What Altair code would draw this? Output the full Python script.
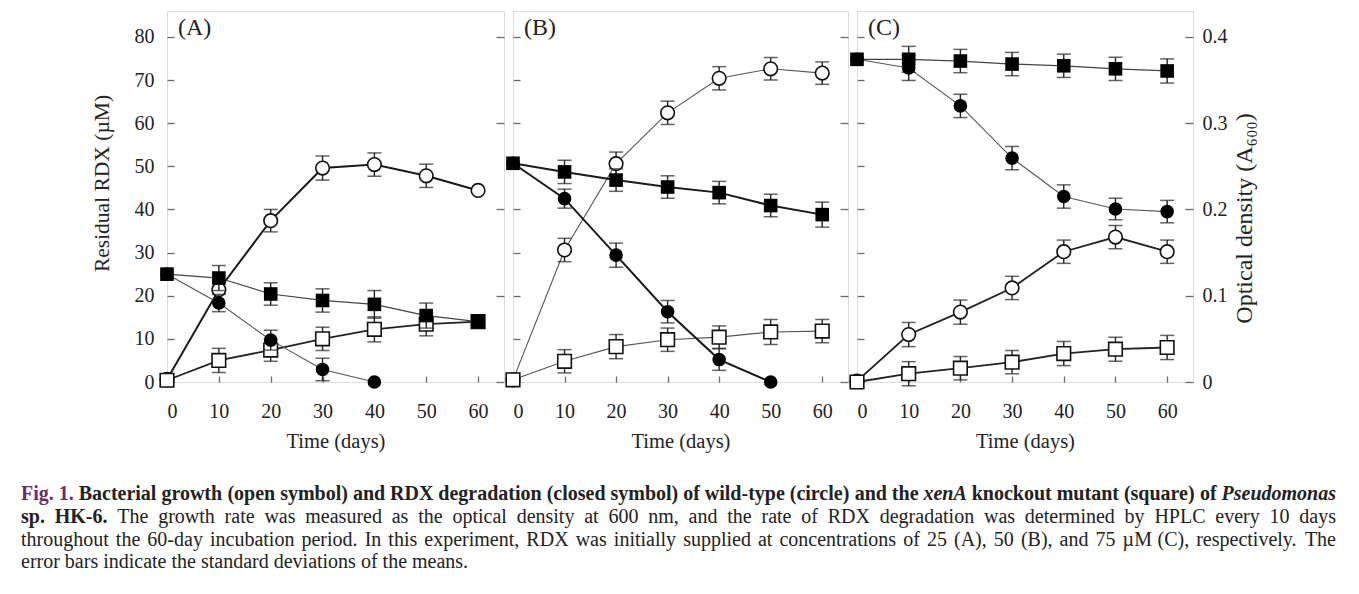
import altair as alt
import pandas as pd

SERIF = "Liberation Serif"
INK = "#222222"
FRAME = "#6a6a6a"
PURPLE = "#6b2c6b"

days = [0, 10, 20, 30, 40, 50, 60]

# ---- Panel A (25 uM RDX) ----
a_rdx_wt = [25.0, 18.3, 9.7, 2.9, 0.0, None, None]
a_rdx_wt_sd = [0, 2.0, 2.3, 2.6, 0, 0, 0]
a_rdx_mut = [25.0, 24.1, 20.4, 18.9, 18.0, 15.4, 14.0]
a_rdx_mut_sd = [0, 2.9, 2.6, 2.7, 3.2, 2.9, 0]
a_od_wt = [0.003, 0.107, 0.187, 0.248, 0.252, 0.239, 0.222]
a_od_wt_sd = [0, 0, 0.013, 0.014, 0.0135, 0.0135, 0]
a_od_mut = [0.002, 0.025, 0.037, 0.050, 0.061, 0.067, 0.070]
a_od_mut_sd = [0, 0.014, 0.013, 0.0135, 0.0145, 0.0135, 0]

# ---- Panel B (50 uM RDX) ----
b_rdx_wt = [50.7, 42.5, 29.4, 16.3, 5.2, 0.0, None]
b_rdx_wt_sd = [0, 2.2, 2.8, 2.6, 2.5, 0, 0]
b_rdx_mut = [50.7, 48.7, 46.8, 45.2, 43.9, 40.9, 38.8]
b_rdx_mut_sd = [0, 2.7, 2.6, 2.6, 2.6, 2.6, 2.9]
b_od_wt = [0.0025, 0.153, 0.253, 0.312, 0.352, 0.363, 0.358]
b_od_wt_sd = [0, 0.0135, 0.0135, 0.0135, 0.0135, 0.013, 0.013]
b_od_mut = [0.0025, 0.024, 0.041, 0.049, 0.052, 0.058, 0.059]
b_od_mut_sd = [0, 0.0135, 0.014, 0.0135, 0.013, 0.0145, 0.0135]

# ---- Panel C (75 uM RDX) ----
c_rdx_wt = [74.8, 72.8, 64.0, 51.9, 43.0, 40.1, 39.5]
c_rdx_wt_sd = [0, 2.9, 2.7, 2.7, 2.7, 2.5, 2.6]
c_rdx_mut = [74.8, 74.8, 74.4, 73.7, 73.3, 72.6, 72.1]
c_rdx_mut_sd = [0, 3.0, 2.7, 2.7, 2.7, 2.7, 2.8]
c_od_wt = [0.001, 0.055, 0.081, 0.109, 0.151, 0.168, 0.151]
c_od_wt_sd = [0, 0.014, 0.014, 0.0135, 0.0135, 0.0135, 0.0135]
c_od_mut = [0.0, 0.0096, 0.016, 0.023, 0.033, 0.038, 0.040]
c_od_mut_sd = [0, 0.014, 0.0135, 0.0135, 0.014, 0.014, 0.014]

panel_labels = ["(A)", "(B)", "(C)"]
x_ticks = [0, 10, 20, 30, 40, 50, 60]
rdx_ticks = [0, 10, 20, 30, 40, 50, 60, 70, 80]
od_ticks = [0, 0.1, 0.2, 0.3, 0.4]

# connecting-line weight per (panel, measure, strain)
LINE_W = {("A", "rdx", "wt"): 1.1, ("A", "rdx", "mut"): 1.2,
          ("A", "od", "wt"): 2.0, ("A", "od", "mut"): 1.8,
          ("B", "rdx", "wt"): 2.0, ("B", "rdx", "mut"): 2.0,
          ("B", "od", "wt"): 1.1, ("B", "od", "mut"): 1.1,
          ("C", "rdx", "wt"): 1.1, ("C", "rdx", "mut"): 1.2,
          ("C", "od", "wt"): 1.8, ("C", "od", "mut"): 1.8}
LINE_C = {1.1: "#555555", 1.2: "#444444", 1.8: "#222222", 2.0: "#1a1a1a"}

# caption: (text, style) segments per line
caption_lines = [
    [("Fig. 1.", "purple"),
     ("Bacterial growth (open symbol) and RDX degradation (closed symbol) of wild-type (circle) and the", "bold"),
     ("xenA", "bolditalic"), ("knockout mutant (square) of", "bold"), ("Pseudomonas", "bolditalic")],
    [("sp. HK-6.", "bold"),
     ("The growth rate was measured as the optical density at 600 nm, and the rate of RDX degradation was determined by HPLC every 10 days", "regular")],
    [("throughout the 60-day incubation period. In this experiment, RDX was initially supplied at concentrations of 25 (A), 50 (B), and 75 \u00b5M (C), respectively. The", "regular")],
    [("error bars indicate the standard deviations of the means.", "regular")],
]
caption_justified = [True, True, True, False]

# --- Times-compatible glyph advance widths (per 1000 em), for justifying the caption ---
_REG = {' ': 250, '(': 333, ')': 333, ',': 250, '-': 333, '.': 250, '\u00b5': 500,
        'A': 722, 'B': 667, 'C': 667, 'D': 722, 'E': 611, 'F': 556, 'G': 722, 'H': 722, 'I': 333,
        'J': 389, 'K': 722, 'L': 611, 'M': 889, 'N': 722, 'O': 722, 'P': 556, 'Q': 722, 'R': 667,
        'S': 556, 'T': 611, 'U': 722, 'V': 722, 'W': 944, 'X': 722, 'Y': 722, 'Z': 611,
        'a': 444, 'b': 500, 'c': 444, 'd': 500, 'e': 444, 'f': 333, 'g': 500, 'h': 500, 'i': 278,
        'j': 278, 'k': 500, 'l': 278, 'm': 778, 'n': 500, 'o': 500, 'p': 500, 'q': 500, 'r': 333,
        's': 389, 't': 278, 'u': 500, 'v': 500, 'w': 722, 'x': 500, 'y': 500, 'z': 444}
_BOLD = {' ': 250, '(': 333, ')': 333, ',': 250, '-': 333, '.': 250,
         'A': 722, 'B': 667, 'C': 722, 'D': 722, 'E': 667, 'F': 611, 'G': 778, 'H': 778, 'I': 389,
         'J': 500, 'K': 778, 'L': 667, 'M': 944, 'N': 722, 'O': 778, 'P': 611, 'Q': 778, 'R': 722,
         'S': 556, 'T': 667, 'U': 722, 'V': 722, 'W': 1000, 'X': 722, 'Y': 722, 'Z': 667,
         'a': 500, 'b': 556, 'c': 444, 'd': 556, 'e': 444, 'f': 333, 'g': 500, 'h': 556, 'i': 278,
         'j': 333, 'k': 556, 'l': 278, 'm': 833, 'n': 556, 'o': 500, 'p': 556, 'q': 556, 'r': 444,
         's': 389, 't': 333, 'u': 556, 'v': 500, 'w': 722, 'x': 500, 'y': 500, 'z': 444}
_BI = {'A': 667, 'P': 611, 'a': 500, 'c': 444, 'd': 500, 'e': 444, 'k': 500, 'm': 778,
       'n': 556, 'o': 500, 's': 389, 'u': 556, 'x': 500}


def _w(word, style, fs):
    tbl = _REG if style == "regular" else (_BI if style == "bolditalic" else _BOLD)
    return sum(tbl.get(ch, 500) for ch in word) * fs / 1000.0


def layout_caption(left, right, baselines, fs0=20.0):
    rows = []
    for segs, just, yb in zip(caption_lines, caption_justified, baselines):
        words = [(w, st) for txt, st in segs for w in txt.split(" ")]
        fs = fs0
        while True:
            total = sum(_w(w, st, fs) for w, st in words)
            gap = (right - left - total) / (len(words) - 1) if just else 0.25 * fs
            if gap >= 0.2 * fs or fs < 14:
                break
            fs -= 0.25
        x = left
        for w, st in words:
            rows.append({"w": w, "st": st, "px": x, "py": yb, "fs": fs})
            x += _w(w, st, fs) + gap
    return pd.DataFrame(rows)


def series(vals, sds, strain):
    rows = []
    for d, v, s in zip(days, vals, sds):
        if v is None:
            continue
        rows.append({"day": d, "value": v, "sd": s, "lo": v - s, "hi": v + s, "strain": strain})
    return rows


data = {
    "A": (series(a_rdx_wt, a_rdx_wt_sd, "wt") + series(a_rdx_mut, a_rdx_mut_sd, "mut"),
          series(a_od_wt, a_od_wt_sd, "wt") + series(a_od_mut, a_od_mut_sd, "mut")),
    "B": (series(b_rdx_wt, b_rdx_wt_sd, "wt") + series(b_rdx_mut, b_rdx_mut_sd, "mut"),
          series(b_od_wt, b_od_wt_sd, "wt") + series(b_od_mut, b_od_mut_sd, "mut")),
    "C": (series(c_rdx_wt, c_rdx_wt_sd, "wt") + series(c_rdx_mut, c_rdx_mut_sd, "mut"),
          series(c_od_wt, c_od_wt_sd, "wt") + series(c_od_mut, c_od_mut_sd, "mut")),
}

H = 371
WIDTHS = {"A": 337, "B": 335, "C": 336}
shape_scale = alt.Scale(domain=["wt", "mut"], range=["circle", "square"])
MSIZE = 185
LBL = 20
TTL = 20.5


def x_enc():
    return alt.X("day:Q",
                 scale=alt.Scale(domain=[0, 65], nice=False),
                 axis=alt.Axis(values=x_ticks, tickSize=6, offset=-6, domain=False, grid=False,
                               tickColor=FRAME, tickWidth=1.3,
                               labelFont=SERIF, labelFontSize=LBL, labelColor=INK, labelPadding=19,
                               title="Time (days)", titleFont=SERIF, titleFontSize=TTL,
                               titleFontWeight="normal", titleColor=INK, titlePadding=10))


def y_rdx(field, show_labels):
    ax = dict(orient="left", values=rdx_ticks, tickSize=7, offset=-7, domain=False, grid=False,
              tickColor=FRAME, tickWidth=1.3, labels=show_labels,
              labelFont=SERIF, labelFontSize=LBL, labelColor=INK, labelPadding=13,
              titleFont=SERIF, titleFontSize=21.5, titleFontWeight="normal", titleColor=INK,
              titlePadding=21, titleY=172, title="Residual RDX (\u00b5M)" if show_labels else "")
    return alt.Y(field, scale=alt.Scale(domain=[0, 86], nice=False), axis=alt.Axis(**ax))


def y_od(field, show_labels):
    ax = dict(orient="right", values=od_ticks, tickSize=8, offset=-8, domain=False, grid=False,
              tickColor=FRAME, tickWidth=1.3, labels=show_labels,
              labelFont=SERIF, labelFontSize=LBL, labelColor=INK, labelPadding=9,
              labelExpr="datum.value == 0 ? '0' : format(datum.value, '.1f')",
              titleFont=SERIF, titleFontSize=24, titleFontWeight="normal", titleColor=INK,
              titleAngle=270, titleBaseline="top", titlePadding=5, titleY=207,
              title="Optical density (A\u2086\u2080\u2080)" if show_labels else "")
    return alt.Y(field, scale=alt.Scale(domain=[0, 0.43], nice=False), axis=alt.Axis(**ax))


def group(key, measure, rows, yfun, show_labels, open_marker):
    df = pd.DataFrame(rows)
    base = alt.Chart(df)
    lines = []
    for strain in ["wt", "mut"]:
        lw = LINE_W[(key, measure, strain)]
        lines.append(base.transform_filter(alt.datum.strain == strain).mark_line(
            color=LINE_C[lw], strokeWidth=lw).encode(
            x=x_enc(), y=yfun("value:Q", show_labels)))
    err = base.transform_filter("datum.sd > 0")
    rule = err.mark_rule(color=INK, strokeWidth=1.4).encode(
        x=x_enc(), y=yfun("lo:Q", show_labels), y2="hi:Q")
    cap_lo = err.mark_tick(color=INK, orient="horizontal", size=14, thickness=1.5).encode(
        x=x_enc(), y=yfun("lo:Q", show_labels))
    cap_hi = err.mark_tick(color=INK, orient="horizontal", size=14, thickness=1.5).encode(
        x=x_enc(), y=yfun("hi:Q", show_labels))
    if open_marker:
        pts = base.mark_point(filled=False, fill="white", fillOpacity=1, stroke="#111111",
                              strokeWidth=1.6, size=MSIZE, opacity=1)
    else:
        pts = base.mark_point(filled=True, color="#000000", size=MSIZE, opacity=1)
    pts = pts.encode(x=x_enc(), y=yfun("value:Q", show_labels),
                     shape=alt.Shape("strain:N", scale=shape_scale, legend=None))
    return alt.layer(*lines, rule, cap_lo, cap_hi, pts)


def caption_layers():
    cap = layout_caption(left=-146, right=1169, baselines=[489, 512, 535, 557])
    styles = {"regular": dict(fontWeight="normal", fontStyle="normal", color=INK),
              "bold": dict(fontWeight="bold", fontStyle="normal", color=INK),
              "bolditalic": dict(fontWeight="bold", fontStyle="italic", color=INK),
              "purple": dict(fontWeight="bold", fontStyle="normal", color=PURPLE)}
    out = []
    for st, props in styles.items():
        sub = cap[cap["st"] == st]
        if len(sub) == 0:
            continue
        out.append(alt.Chart(sub).mark_text(font=SERIF, align="left", baseline="alphabetic",
                                            **props).encode(
            x=alt.X("px:Q", scale=None, axis=None),
            y=alt.Y("py:Q", scale=None, axis=None),
            text="w:N",
            size=alt.Size("fs:Q", scale=None, legend=None)))
    return out


def panel(key, idx):
    rdx_rows, od_rows = data[key]
    g_rdx = group(key, "rdx", rdx_rows, y_rdx, key == "A", open_marker=False)
    g_od = group(key, "od", od_rows, y_od, key == "C", open_marker=True)
    label = alt.Chart(alt.Data(values=[{"t": panel_labels[idx]}])).mark_text(
        font=SERIF, fontSize=24, color=INK, align="left", baseline="middle").encode(
        text="t:N", x=alt.value(11), y=alt.value(17))
    layers = [g_od, g_rdx, label]
    if key == "A":
        layers += caption_layers()
    return alt.layer(*layers).resolve_scale(y="independent").properties(
        width=WIDTHS[key], height=H)


chart = alt.hconcat(panel("A", 0), panel("B", 1), panel("C", 2), spacing=9, bounds="flush"
                    ).properties(padding={"left": 12, "top": 2, "right": 5, "bottom": 5}
                    ).configure_view(stroke=FRAME, strokeWidth=1.5
                    ).configure(background="white")

chart.save("out.html", embed_options={"renderer": "svg", "actions": False})
